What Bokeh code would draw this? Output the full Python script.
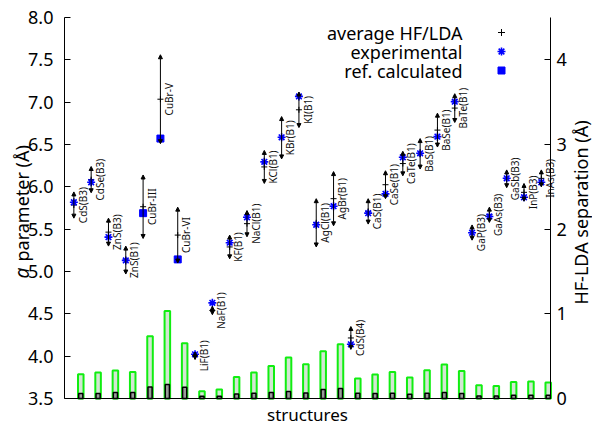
import numpy as np
from bokeh.plotting import figure
from bokeh.models import (Range1d, LinearAxis, FixedTicker, PrintfTickFormatter,
                          Arrow, NormalHead, ColumnDataSource)
from bokeh.core.properties import value
from bokeh.embed import file_html
from bokeh.resources import INLINE

nan = float("nan")

structures = ["CdS(B3)", "CdSe(B3)", "ZnS(B3)", "ZnS(B1)", "CuBr-III", "CuBr-V", "CuBr-VI",
              "LiF(B1)", "NaF(B1)", "KF(B1)", "NaCl(B1)", "KCl(B1)", "KBr(B1)", "KI(B1)",
              "AgCl(B1)", "AgBr(B1)", "CdS(B4)", "CaS(B1)", "CaSe(B1)", "CaTe(B1)", "BaS(B1)",
              "BaSe(B1)", "BaTe(B1)", "GaP(B3)", "GaAs(B3)", "GaSb(B3)", "InP(B3)", "InAs(B3)"]

# HF (upper arrow end) and LDA (lower arrow end) lattice parameters, Angstrom
hf_lattice = [5.94, 6.24, 5.63, 5.30, 6.14, 7.56, 5.76,
              4.05, 4.59, 5.43, 5.72, 6.43, 6.83, 7.12,
              5.86, 6.18, 4.35, 5.86, 6.19, 6.42, 6.57,
              6.87, 7.10, 5.55, 5.76, 6.20, 6.04, 6.20]
lda_lattice = [5.63, 5.93, 5.30, 4.97, 5.39, 6.51, 5.10,
               3.96, 4.49, 5.15, 5.41, 6.04, 6.33, 6.70,
               5.29, 5.54, 4.08, 5.56, 5.86, 6.13, 6.21,
               6.47, 6.76, 5.37, 5.58, 5.99, 5.83, 6.00]
avg_lattice = [5.785, 6.085, 5.465, 5.135, 5.765, 7.035, 5.43,
               4.005, 4.54, 5.29, 5.565, 6.235, 6.58, 6.91,
               5.575, 5.86, 4.215, 5.71, 6.025, 6.275, 6.39,
               6.67, 6.93, 5.46, 5.67, 6.095, 5.935, 6.10]
exp_lattice = [5.818, 6.054, 5.406, 5.131, nan, nan, nan,
               4.022, 4.63, 5.34, 5.64, 6.295, 6.585, 7.068,
               5.552, 5.771, 4.14, 5.689, 5.917, 6.349, 6.396,
               6.593, 7.006, 5.458, 5.65, 6.101, 5.877, 6.054]
ref_lattice = [nan, nan, nan, nan, 5.689, 6.57, 5.143,
               nan, nan, nan, nan, nan, nan, nan,
               nan, nan, nan, nan, nan, nan, nan,
               nan, nan, nan, nan, nan, nan, nan]

# bars on the right axis (HF-LDA separation, Angstrom)
separation = [0.287, 0.307, 0.330, 0.314, 0.736, 1.034, 0.653,
              0.086, 0.106, 0.255, 0.307, 0.385, 0.484, 0.405,
              0.558, 0.641, 0.236, 0.283, 0.314, 0.248, 0.334,
              0.401, 0.326, 0.157, 0.149, 0.196, 0.200, 0.189]
inner_bar = [0.059, 0.059, 0.071, 0.071, 0.137, 0.165, 0.133,
             0.027, 0.027, 0.054, 0.063, 0.071, 0.083, 0.066,
             0.106, 0.118, 0.063, 0.059, 0.063, 0.051, 0.063,
             0.071, 0.059, 0.031, 0.031, 0.039, 0.039, 0.039]

left_ticks = [3.5, 4.0, 4.5, 5.0, 5.5, 6.0, 6.5, 7.0, 7.5, 8.0]
right_ticks = [0, 1, 2, 3, 4]
legend_labels = ["average HF/LDA", "experimental", "ref. calculated"]
right_title = "HF-LDA separation (Å)"
left_title_var = "a"
left_title_rest = "parameter (Å)"
bottom_title = "structures"

FONT = "Noto Sans"
idx = np.arange(1, len(structures) + 1)

# ---- layout: the frame fills the canvas; axes are placed at fixed locations
W, H = 592, 423
AX_L, AX_R, AX_T, AX_B = 64, 550, 17, 398   # pixel positions of the axis ends
X_LO, X_HI = 0.46, 28.53                     # data extent of the axes
Y_LO, Y_HI = 3.5, 8.0
S_LO, S_HI = 0.0, 4.5                        # right-hand (separation) axis
PX_X = (AX_R - AX_L) / (X_HI - X_LO)
PX_Y = (AX_B - AX_T) / (Y_HI - Y_LO)

def dx(px):   # page x -> data x
    return X_LO + (px - AX_L) / PX_X

def dy(py):   # page y -> data y
    return Y_HI - (py - AX_T) / PX_Y

p = figure(width=W, height=H, output_backend="svg", toolbar_location=None,
           x_range=Range1d(dx(0), dx(W)), y_range=Range1d(dy(H), dy(0)),
           min_border_left=0, min_border_right=0, min_border_top=0, min_border_bottom=0)
p.extra_y_ranges = {"sep": Range1d(S_LO - (H - AX_B) / PX_Y, S_HI + AX_T / PX_Y)}
p.outline_line_color = None
p.xgrid.visible = False
p.ygrid.visible = False

# left axis
p.yaxis.fixed_location = X_LO
p.yaxis.bounds = (Y_LO, Y_HI)
p.yaxis.ticker = FixedTicker(ticks=left_ticks)
p.yaxis.formatter = PrintfTickFormatter(format="%.1f")
p.yaxis.major_tick_in = 6
p.yaxis.major_tick_out = 0
p.yaxis.minor_tick_in = 0
p.yaxis.minor_tick_out = 0
p.yaxis.major_label_standoff = 11
p.yaxis.major_label_text_font = FONT
p.yaxis.major_label_text_font_size = "18px"
p.yaxis.major_label_text_color = "black"
p.yaxis.axis_line_color = "black"
p.yaxis.major_tick_line_color = "black"

# bottom axis: line only
p.xaxis.fixed_location = Y_LO
p.xaxis.bounds = (X_LO, X_HI)
p.xaxis.ticker = FixedTicker(ticks=[])
p.xaxis.major_tick_out = 0
p.xaxis.major_tick_in = 0
p.xaxis.minor_tick_out = 0
p.xaxis.minor_tick_in = 0
p.xaxis.axis_line_color = "black"

# right axis
ax_r = LinearAxis(y_range_name="sep", ticker=FixedTicker(ticks=right_ticks),
                  fixed_location=X_HI, bounds=(S_LO, S_HI),
                  major_tick_in=6, major_tick_out=0, minor_tick_in=0, minor_tick_out=0,
                  major_label_standoff=6,
                  major_label_text_font=FONT, major_label_text_font_size="18px",
                  major_label_text_color="black", axis_line_color="black")
p.add_layout(ax_r, "right")

# bars
p.vbar(x=idx + 0.4, width=0.32, top=separation, bottom=0, y_range_name="sep",
       fill_color="#d3e6d3", line_color="#11ee11", line_width=2)
p.vbar(x=idx + 0.4, width=0.24, top=inner_bar, bottom=0, y_range_name="sep",
       fill_color="#9a9a9a", line_color="black", line_width=1.5)

# HF/LDA arrows
src = ColumnDataSource(dict(x=idx, hf=hf_lattice, lda=lda_lattice))
p.add_layout(Arrow(start=NormalHead(size=4, fill_color="black", line_color="black", line_width=1),
                   end=NormalHead(size=4, fill_color="black", line_color="black", line_width=1),
                   x_start="x", y_start="lda", x_end="x", y_end="hf", source=src,
                   line_color="black", line_width=1))

p.scatter(idx, avg_lattice, marker="cross", size=6, line_color="black", line_width=1)
p.scatter(idx, exp_lattice, marker="asterisk", size=8, line_color="#0000ff", line_width=1.6)
p.scatter(idx, ref_lattice, marker="square", size=7, fill_color="#0000ff", line_color="#0000ff")

p.text(x=idx + 0.5, y=avg_lattice, text=structures, angle=np.pi / 2,
       text_align="center", text_baseline="middle",
       text_font=value(FONT), text_font_size="10px", text_color="#111111")

# legend (text right-aligned, key to the right)
leg_y = [dy(32), dy(51), dy(70)]
p.text(x=[dx(462)] * 3, y=leg_y, text=legend_labels, text_align="right",
       text_baseline="middle", text_font=value(FONT), text_font_size="18px", text_color="black")
p.scatter([dx(501)], [leg_y[0]], marker="cross", size=7, line_color="black", line_width=1)
p.scatter([dx(501)], [leg_y[1]], marker="asterisk", size=8, line_color="#0000ff", line_width=1.6)
p.scatter([dx(501)], [leg_y[2]], marker="square", size=7, fill_color="#0000ff", line_color="#0000ff")

# axis titles
p.text(x=[dx(21)], y=[dy(278)], text=[left_title_var], angle=np.pi / 2,
       text_align="left", text_baseline="middle", text_font=value(FONT),
       text_font_style="italic", text_font_size="19px", text_color="black")
p.text(x=[dx(21)], y=[dy(261)], text=[left_title_rest], angle=np.pi / 2,
       text_align="left", text_baseline="middle", text_font=value(FONT),
       text_font_size="18px", text_color="black")
p.text(x=[dx(580)], y=[dy(212)], text=[right_title], angle=np.pi / 2,
       text_align="center", text_baseline="middle",
       text_font=value(FONT), text_font_size="18px", text_color="black")
p.text(x=[dx(307)], y=[dy(414)], text=[bottom_title], text_align="center",
       text_baseline="middle", text_font=value(FONT), text_font_size="17px",
       text_color="black")

open("out.html", "w").write(file_html(p, INLINE))
